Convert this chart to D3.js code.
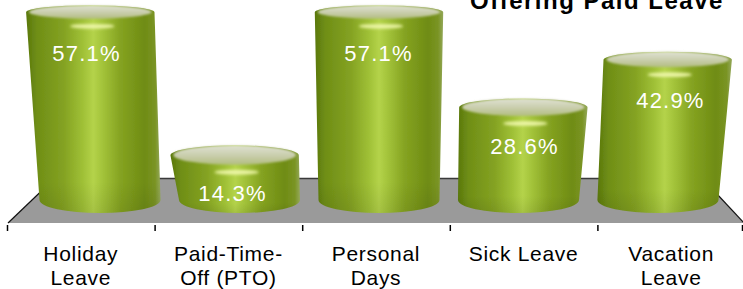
<!DOCTYPE html>
<html>
<head>
<meta charset="utf-8">
<script src="https://cdn.jsdelivr.net/npm/d3@7"></script>
<style>
  html, body { margin: 0; padding: 0; background: #fff; }
  svg { display: block; font-family: "Liberation Sans", Arial, sans-serif; }
</style>
</head>
<body>
<svg width="743" height="289"></svg>
<script>
// **** chart data ****
var categories = ['Holiday Leave', 'Paid-Time-Off (PTO)', 'Personal Days', 'Sick Leave', 'Vacation Leave'];
var labelLines = [['Holiday', 'Leave'], ['Paid-Time-', 'Off (PTO)'], ['Personal', 'Days'], ['Sick Leave'], ['Vacation', 'Leave']];
var values = [57.1, 14.3, 57.1, 28.6, 42.9];
var titleText = 'Offering Paid Leave';

var svg = d3.select('svg');

// **** scales ****
var xScale = d3.scaleBand().domain(categories).range([7, 745]).padding(0);
var yScale = d3.scaleLinear().domain([0, 60]).range([192, -4.2]);

var mid = (xScale.range()[0] + xScale.range()[1]) / 2;
var bw = xScale.bandwidth();
var baseY = 200, ryBot = 13;
var wT = bw * 0.87, wB = bw * 0.82;

function bandCenter(c) { return xScale(c) + bw / 2; }
// slight perspective: bottoms pull toward the middle more than tops
function topCenter(c) { return mid + (bandCenter(c) - mid) * 0.978 + 3; }
function botCenter(c) { return mid + (bandCenter(c) - mid) * 0.945 + 3; }
function ryTop(v) { return 11 - v * 0.07; }

var defs = svg.append('defs');

var bodyGrad = defs.append('linearGradient').attr('id', 'body')
    .attr('x1', '0%').attr('x2', '100%').attr('y1', '0%').attr('y2', '0%');
[['0%', '#5a780c'], ['8%', '#6f8e16'], ['28%', '#84a222'], ['42%', '#9fc036'],
 ['50%', '#b4d34a'], ['57%', '#a3c33a'], ['70%', '#85a321'], ['88%', '#6f8c14'],
 ['96%', '#7a9424'], ['100%', '#94a85a']].forEach(function(s) {
    bodyGrad.append('stop').attr('offset', s[0]).attr('stop-color', s[1]);
});

var shadeGrad = defs.append('linearGradient').attr('id', 'shade')
    .attr('x1', '0').attr('x2', '0').attr('y1', '0').attr('y2', '1');
shadeGrad.append('stop').attr('offset', '85%').attr('stop-color', '#000').attr('stop-opacity', 0);
shadeGrad.append('stop').attr('offset', '100%').attr('stop-color', '#000').attr('stop-opacity', 0.08);

var topGrad = defs.append('linearGradient').attr('id', 'top')
    .attr('x1', '0').attr('x2', '0').attr('y1', '0').attr('y2', '1');
topGrad.append('stop').attr('offset', '0%').attr('stop-color', '#e0e2d4');
topGrad.append('stop').attr('offset', '55%').attr('stop-color', '#c8cdab');
topGrad.append('stop').attr('offset', '100%').attr('stop-color', '#b2bd80');

defs.append('filter').attr('id', 'soft')
    .append('feGaussianBlur').attr('stdDeviation', 0.6);
defs.append('filter').attr('id', 'rim').attr('x', '-20%').attr('y', '-50%')
    .attr('width', '140%').attr('height', '200%')
    .append('feGaussianBlur').attr('stdDeviation', 1.1);
defs.append('filter').attr('id', 'glow').attr('x', '-50%').attr('y', '-200%')
    .attr('width', '200%').attr('height', '500%')
    .append('feGaussianBlur').attr('stdDeviation', 1.6);

// **** floor ****
var floorTop = 178, floorBot = 223;
var floorPts = [[8, floorBot], [55, floorTop], [702, floorTop], [744, floorBot]];
svg.append('polygon')
    .attr('points', floorPts.map(function(p) { return p.join(','); }).join(' '))
    .attr('fill', '#9a9a9a');
svg.append('line')
    .attr('x1', floorPts[1][0]).attr('y1', floorTop + 0.5)
    .attr('x2', floorPts[2][0]).attr('y2', floorTop + 0.5)
    .attr('stroke', '#3a3a3a').attr('stroke-width', 1.5);
svg.append('line')
    .attr('x1', floorPts[0][0]).attr('y1', floorPts[0][1])
    .attr('x2', floorPts[1][0]).attr('y2', floorPts[1][1])
    .attr('stroke', '#111').attr('stroke-width', 1.2);
svg.append('line')
    .attr('x1', floorPts[3][0]).attr('y1', floorPts[3][1])
    .attr('x2', floorPts[2][0]).attr('y2', floorPts[2][1])
    .attr('stroke', '#111').attr('stroke-width', 1.2);

// **** ticks at band edges ****
var tickXs = categories.map(function(c) { return xScale(c); }).concat([xScale.range()[1]]);
svg.selectAll('.tick')
    .data(tickXs)
    .enter()
    .append('line')
    .attr('class', 'tick')
    .attr('x1', function(d) { return Math.min(d, 742) + 0.5; })
    .attr('x2', function(d) { return Math.min(d, 742) + 0.5; })
    .attr('y1', 225).attr('y2', 231)
    .attr('stroke', '#000').attr('stroke-width', 1.5);

// **** cylinders ****
var cyl = svg.selectAll('.cyl')
    .data(categories)
    .enter()
    .append('g')
    .attr('class', 'cyl')
    .attr('filter', 'url(#soft)');

function bodyPath(c, i) {
    var v = values[i];
    var ryT = ryTop(v);
    var cyT = yScale(v) + ryT;
    var tx = topCenter(c), bx = botCenter(c);
    return 'M' + (tx - wT / 2) + ',' + cyT +
        ' L' + (bx - wB / 2) + ',' + baseY +
        ' A' + (wB / 2) + ',' + ryBot + ' 0 0 0 ' + (bx + wB / 2) + ',' + baseY +
        ' L' + (tx + wT / 2) + ',' + cyT +
        ' A' + (wT / 2) + ',' + ryT + ' 0 0 0 ' + (tx - wT / 2) + ',' + cyT + ' Z';
}

cyl.append('path').attr('d', bodyPath).attr('fill', 'url(#body)');
cyl.append('path').attr('d', bodyPath).attr('fill', 'url(#shade)');

// pale top face, a little inset so a soft green shoulder shows
cyl.append('ellipse')
    .attr('cx', function(c) { return topCenter(c); })
    .attr('cy', function(c, i) { return yScale(values[i]) + ryTop(values[i]) - 0.3; })
    .attr('rx', wT / 2 - 3)
    .attr('ry', function(c, i) { return ryTop(values[i]) - 0.2; })
    .attr('fill', 'url(#top)')
    .attr('filter', 'url(#rim)');

// highlight just under the rim
cyl.append('ellipse')
    .attr('cx', function(c) { return topCenter(c) + 2; })
    .attr('cy', function(c, i) { return yScale(values[i]) + 2 * ryTop(values[i]) + 7; })
    .attr('rx', bw * 0.15)
    .attr('ry', 2.4)
    .attr('fill', '#eef7a8')
    .attr('opacity', 0.95)
    .attr('filter', 'url(#glow)');

// **** value labels ****
svg.selectAll('.val')
    .data(categories)
    .enter()
    .append('text')
    .attr('class', 'val')
    .attr('x', function(c) { return (topCenter(c) + bandCenter(c)) / 2 + 1; })
    .attr('y', function(c, i) { return yScale(values[i]) + 56; })
    .attr('text-anchor', 'middle')
    .attr('fill', '#fff')
    .style('font-size', '22px')
    .style('letter-spacing', '1.2px')
    .text(function(c, i) { return values[i].toFixed(1) + '%'; });

// **** category labels ****
var labels = svg.selectAll('.cat')
    .data(categories)
    .enter()
    .append('text')
    .attr('class', 'cat')
    .attr('text-anchor', 'middle')
    .attr('fill', '#000')
    .style('font-size', '21px')
    .style('letter-spacing', '0.7px');

labels.selectAll('tspan')
    .data(function(c, i) {
        return labelLines[i].map(function(t) { return { text: t, x: bandCenter(c) }; });
    })
    .enter()
    .append('tspan')
    .attr('x', function(d) { return d.x; })
    .attr('y', function(d, j) { return 261 + j * 24; })
    .text(function(d) { return d.text; });

// **** title (clipped at top, as in the source) ****
svg.append('text')
    .attr('x', 470)
    .attr('y', 9)
    .attr('fill', '#000')
    .style('font-size', '24px')
    .style('font-weight', 'bold')
    .style('letter-spacing', '1.5px')
    .text(titleText);
</script>
</body>
</html>
